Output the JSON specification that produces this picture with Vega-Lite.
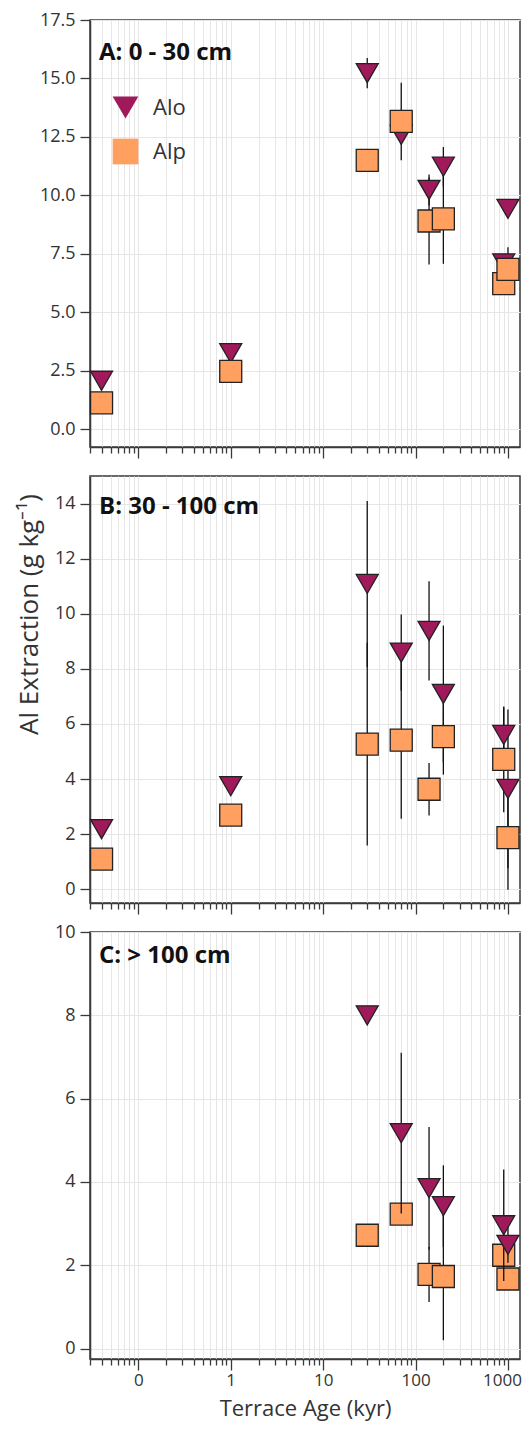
{
  "$schema": "https://vega.github.io/schema/vega-lite/v6.json",
  "padding": {"left": 15, "top": 10, "right": 2, "bottom": 2},
  "background": "white",
  "config": {
    "font": "Open Sans",
    "view": {"stroke": "#3a3a3a", "strokeWidth": 1.5},
    "axis": {"labelFont": "Open Sans", "labelFontSize": 18, "labelColor": "#333", "titleFont": "Open Sans", "titleFontSize": 26, "titleFontWeight": "normal", "titleColor": "#333", "domainColor": "#3a3a3a", "domainWidth": 1.5, "tickColor": "#3a3a3a", "tickWidth": 1.3, "gridColor": "#e6e6e6", "gridWidth": 1},
    "title": {"font": "Open Sans", "fontSize": 24, "fontWeight": "bold", "color": "#111", "anchor": "start", "frame": "group", "offset": 0, "baseline": "alphabetic", "dx": 9}
  },
  "datasets": {
    "pts": [
      {"panel": "A", "age": 0.04, "type": "Alo", "value": 2.08, "lo": null, "hi": null},
      {"panel": "A", "age": 1, "type": "Alo", "value": 3.26, "lo": null, "hi": null},
      {"panel": "A", "age": 30, "type": "Alo", "value": 15.23, "lo": 14.58, "hi": 15.88},
      {"panel": "A", "age": 70, "type": "Alo", "value": 12.59, "lo": null, "hi": null},
      {"panel": "A", "age": 140, "type": "Alo", "value": 10.24, "lo": 9.58, "hi": 10.9},
      {"panel": "A", "age": 200, "type": "Alo", "value": 11.23, "lo": 10.39, "hi": 12.07},
      {"panel": "A", "age": 900, "type": "Alo", "value": 7.1, "lo": null, "hi": null},
      {"panel": "A", "age": 1000, "type": "Alo", "value": 9.43, "lo": null, "hi": null},
      {"panel": "A", "age": 0.04, "type": "Alp", "value": 1.14, "lo": null, "hi": null},
      {"panel": "A", "age": 1, "type": "Alp", "value": 2.48, "lo": null, "hi": null},
      {"panel": "A", "age": 30, "type": "Alp", "value": 11.5, "lo": null, "hi": null},
      {"panel": "A", "age": 70, "type": "Alp", "value": 13.17, "lo": 11.51, "hi": 14.82},
      {"panel": "A", "age": 140, "type": "Alp", "value": 8.91, "lo": 7.05, "hi": 10.77},
      {"panel": "A", "age": 200, "type": "Alp", "value": 9.0, "lo": 7.08, "hi": 10.92},
      {"panel": "A", "age": 900, "type": "Alp", "value": 6.23, "lo": null, "hi": null},
      {"panel": "A", "age": 1000, "type": "Alp", "value": 6.84, "lo": 5.89, "hi": 7.79},
      {"panel": "B", "age": 0.04, "type": "Alo", "value": 2.18, "lo": null, "hi": null},
      {"panel": "B", "age": 1, "type": "Alo", "value": 3.74, "lo": null, "hi": null},
      {"panel": "B", "age": 30, "type": "Alo", "value": 11.08, "lo": 8.07, "hi": 14.09},
      {"panel": "B", "age": 70, "type": "Alo", "value": 8.59, "lo": 7.21, "hi": 9.97},
      {"panel": "B", "age": 140, "type": "Alo", "value": 9.38, "lo": 7.58, "hi": 11.18},
      {"panel": "B", "age": 200, "type": "Alo", "value": 7.09, "lo": 4.61, "hi": 9.57},
      {"panel": "B", "age": 900, "type": "Alo", "value": 5.6, "lo": 4.6, "hi": 6.6},
      {"panel": "B", "age": 1000, "type": "Alo", "value": 3.64, "lo": 0.76, "hi": 6.52},
      {"panel": "B", "age": 0.04, "type": "Alp", "value": 1.09, "lo": null, "hi": null},
      {"panel": "B", "age": 1, "type": "Alp", "value": 2.69, "lo": null, "hi": null},
      {"panel": "B", "age": 30, "type": "Alp", "value": 5.27, "lo": 1.59, "hi": 8.95},
      {"panel": "B", "age": 70, "type": "Alp", "value": 5.41, "lo": 2.56, "hi": 8.26},
      {"panel": "B", "age": 140, "type": "Alp", "value": 3.63, "lo": 2.68, "hi": 4.58},
      {"panel": "B", "age": 200, "type": "Alp", "value": 5.54, "lo": 4.16, "hi": 6.92},
      {"panel": "B", "age": 900, "type": "Alp", "value": 4.71, "lo": 2.79, "hi": 6.63},
      {"panel": "B", "age": 1000, "type": "Alp", "value": 1.87, "lo": -0.02, "hi": 3.76},
      {"panel": "C", "age": 30, "type": "Alo", "value": 8.0, "lo": null, "hi": null},
      {"panel": "C", "age": 70, "type": "Alo", "value": 5.17, "lo": 3.24, "hi": 7.1},
      {"panel": "C", "age": 140, "type": "Alo", "value": 3.85, "lo": 2.38, "hi": 5.32},
      {"panel": "C", "age": 200, "type": "Alo", "value": 3.42, "lo": 2.44, "hi": 4.4},
      {"panel": "C", "age": 900, "type": "Alo", "value": 2.96, "lo": 1.62, "hi": 4.3},
      {"panel": "C", "age": 1000, "type": "Alo", "value": 2.49, "lo": 2.06, "hi": 2.92},
      {"panel": "C", "age": 30, "type": "Alp", "value": 2.72, "lo": null, "hi": null},
      {"panel": "C", "age": 70, "type": "Alp", "value": 3.23, "lo": null, "hi": null},
      {"panel": "C", "age": 140, "type": "Alp", "value": 1.78, "lo": 1.12, "hi": 2.44},
      {"panel": "C", "age": 200, "type": "Alp", "value": 1.73, "lo": 0.2, "hi": 3.26},
      {"panel": "C", "age": 900, "type": "Alp", "value": 2.24, "lo": null, "hi": null},
      {"panel": "C", "age": 1000, "type": "Alp", "value": 1.67, "lo": null, "hi": null}
    ]
  },
  "spacing": 29,
  "bounds": "flush",
  "resolve": {"legend": {"shape": "independent", "fill": "independent"}},
  "vconcat": [
    {
      "width": 430, "height": 427,
      "title": {"text": "A: 0 - 30 cm", "dy": 58},
      "data": {"name": "pts"},
      "transform": [{"filter": "datum.panel == 'A'"}],
      "encoding": {
        "x": {"field": "age", "type": "quantitative", "scale": {"type": "log", "domain": [0.03, 1350], "nice": false},
          "axis": {"title": null, "labels": false, "grid": true, "values": [0.03,0.04,0.05,0.06,0.07,0.08,0.09,0.1,0.2,0.3,0.4,0.5,0.6,0.7,0.8,0.9,1,2,3,4,5,6,7,8,9,10,20,30,40,50,60,70,80,90,100,200,300,400,500,600,700,800,900,1000],
            "tickSize": {"condition": {"test": "indexof([0.1,1,10,100,1000], datum.value) >= 0", "value": 11}, "value": 6}}}
      },
      "layer": [
        {
          "transform": [{"filter": "isValid(datum.lo)"}],
          "mark": {"type": "rule", "color": "#111", "strokeWidth": 1.3},
          "encoding": {
            "y": {"field": "lo", "type": "quantitative", "scale": {"domain": [-0.75, 17.5], "nice": false, "zero": false}, "axis": {"title": null, "values": [0,2.5,5,7.5,10,12.5,15,17.5], "format": ".1f", "tickSize": 10, "labelPadding": 5, "grid": true}},
            "y2": {"field": "hi"}
          }
        },
        {
          "transform": [{"filter": "datum.type == 'Alo'"}],
          "mark": {"type": "point", "filled": true, "opacity": 1, "size": 484, "stroke": "#222", "strokeWidth": 1.3},
          "encoding": {
            "y": {"field": "value", "type": "quantitative", "scale": {"domain": [-0.75, 17.5], "nice": false, "zero": false}, "axis": {"title": null, "values": [0,2.5,5,7.5,10,12.5,15,17.5], "format": ".1f", "tickSize": 10, "labelPadding": 5, "grid": true}},
            "shape": {"field": "type", "type": "nominal", "scale": {"domain": ["Alo", "Alp"], "range": ["triangle-down", "square"]},
              "legend": {"title": null, "orient": "none", "legendX": 22, "legendY": 74, "padding": 0, "symbolSize": 660, "labelFontSize": 22, "labelFont": "Open Sans", "labelColor": "#333", "rowPadding": 14, "labelOffset": 14, "symbolStrokeColor": "#222", "symbolStrokeWidth": 1.3, "symbolOpacity": 1}},
            "fill": {"field": "type", "type": "nominal", "scale": {"domain": ["Alo", "Alp"], "range": ["#A0195A", "#FF9F60"]},
              "legend": {"title": null, "orient": "none", "legendX": 22, "legendY": 74, "padding": 0, "symbolSize": 660, "labelFontSize": 22, "labelFont": "Open Sans", "labelColor": "#333", "rowPadding": 14, "labelOffset": 14, "symbolStrokeColor": "#222", "symbolStrokeWidth": 1.3, "symbolOpacity": 1}}
          }
        },
        {
          "transform": [{"filter": "datum.type == 'Alp'"}],
          "mark": {"type": "point", "filled": true, "opacity": 1, "size": 484, "stroke": "#222", "strokeWidth": 1.3},
          "encoding": {
            "y": {"field": "value", "type": "quantitative", "scale": {"domain": [-0.75, 17.5], "nice": false, "zero": false}, "axis": {"title": null, "values": [0,2.5,5,7.5,10,12.5,15,17.5], "format": ".1f", "tickSize": 10, "labelPadding": 5, "grid": true}},
            "shape": {"field": "type", "type": "nominal", "scale": {"domain": ["Alo", "Alp"], "range": ["triangle-down", "square"]},
              "legend": {"title": null, "orient": "none", "legendX": 22, "legendY": 74, "padding": 0, "symbolSize": 660, "labelFontSize": 22, "labelFont": "Open Sans", "labelColor": "#333", "rowPadding": 14, "labelOffset": 14, "symbolStrokeColor": "#222", "symbolStrokeWidth": 1.3, "symbolOpacity": 1}},
            "fill": {"field": "type", "type": "nominal", "scale": {"domain": ["Alo", "Alp"], "range": ["#A0195A", "#FF9F60"]},
              "legend": {"title": null, "orient": "none", "legendX": 22, "legendY": 74, "padding": 0, "symbolSize": 660, "labelFontSize": 22, "labelFont": "Open Sans", "labelColor": "#333", "rowPadding": 14, "labelOffset": 14, "symbolStrokeColor": "#222", "symbolStrokeWidth": 1.3, "symbolOpacity": 1}}
          }
        }
      ]
    },
    {
      "width": 430, "height": 427,
      "title": {"text": "B: 30 - 100 cm", "dy": 47},
      "data": {"name": "pts"},
      "transform": [{"filter": "datum.panel == 'B'"}],
      "encoding": {
        "x": {"field": "age", "type": "quantitative", "scale": {"type": "log", "domain": [0.03, 1350], "nice": false},
          "axis": {"title": null, "labels": false, "grid": true, "values": [0.03,0.04,0.05,0.06,0.07,0.08,0.09,0.1,0.2,0.3,0.4,0.5,0.6,0.7,0.8,0.9,1,2,3,4,5,6,7,8,9,10,20,30,40,50,60,70,80,90,100,200,300,400,500,600,700,800,900,1000],
            "tickSize": {"condition": {"test": "indexof([0.1,1,10,100,1000], datum.value) >= 0", "value": 11}, "value": 6}}}
      },
      "layer": [
        {
          "transform": [{"filter": "isValid(datum.lo)"}],
          "mark": {"type": "rule", "color": "#111", "strokeWidth": 1.3},
          "encoding": {
            "y": {"field": "lo", "type": "quantitative", "scale": {"domain": [-0.5, 15], "nice": false, "zero": false}, "axis": {"title": "Al Extraction (g kg⁻¹)", "titleY": 138, "titlePadding": 12, "values": [0,2,4,6,8,10,12,14], "tickSize": 10, "labelPadding": 5, "grid": true}},
            "y2": {"field": "hi"}
          }
        },
        {
          "transform": [{"filter": "datum.type == 'Alo'"}],
          "mark": {"type": "point", "filled": true, "opacity": 1, "size": 484, "stroke": "#222", "strokeWidth": 1.3},
          "encoding": {
            "y": {"field": "value", "type": "quantitative", "scale": {"domain": [-0.5, 15], "nice": false, "zero": false}, "axis": {"title": "Al Extraction (g kg⁻¹)", "titleY": 138, "titlePadding": 12, "values": [0,2,4,6,8,10,12,14], "tickSize": 10, "labelPadding": 5, "grid": true}},
            "shape": {"field": "type", "type": "nominal", "scale": {"domain": ["Alo", "Alp"], "range": ["triangle-down", "square"]}, "legend": null},
            "fill": {"field": "type", "type": "nominal", "scale": {"domain": ["Alo", "Alp"], "range": ["#A0195A", "#FF9F60"]}, "legend": null}
          }
        },
        {
          "transform": [{"filter": "datum.type == 'Alp'"}],
          "mark": {"type": "point", "filled": true, "opacity": 1, "size": 484, "stroke": "#222", "strokeWidth": 1.3},
          "encoding": {
            "y": {"field": "value", "type": "quantitative", "scale": {"domain": [-0.5, 15], "nice": false, "zero": false}, "axis": {"title": "Al Extraction (g kg⁻¹)", "titleY": 138, "titlePadding": 12, "values": [0,2,4,6,8,10,12,14], "tickSize": 10, "labelPadding": 5, "grid": true}},
            "shape": {"field": "type", "type": "nominal", "scale": {"domain": ["Alo", "Alp"], "range": ["triangle-down", "square"]}, "legend": null},
            "fill": {"field": "type", "type": "nominal", "scale": {"domain": ["Alo", "Alp"], "range": ["#A0195A", "#FF9F60"]}, "legend": null}
          }
        }
      ]
    },
    {
      "width": 430, "height": 427,
      "title": {"text": "C: > 100 cm", "dy": 49},
      "data": {"name": "pts"},
      "transform": [{"filter": "datum.panel == 'C'"}],
      "encoding": {
        "x": {"field": "age", "type": "quantitative", "scale": {"type": "log", "domain": [0.03, 1350], "nice": false},
          "axis": {"title": "Terrace Age (kyr)", "titleFontSize": 22, "titlePadding": 10, "grid": true, "labelOverlap": false, "labelFlush": false, "labelPadding": 2, "labelFontSize": 17,
            "labelOffset": {"condition": {"test": "datum.value == 1000", "value": -6}, "value": 0},
            "labelExpr": "datum.value == 0.1 ? '0' : (indexof([1,10,100,1000], datum.value) >= 0 ? format(datum.value, 'd') : '')",
            "values": [0.03,0.04,0.05,0.06,0.07,0.08,0.09,0.1,0.2,0.3,0.4,0.5,0.6,0.7,0.8,0.9,1,2,3,4,5,6,7,8,9,10,20,30,40,50,60,70,80,90,100,200,300,400,500,600,700,800,900,1000],
            "tickSize": {"condition": {"test": "indexof([0.1,1,10,100,1000], datum.value) >= 0", "value": 11}, "value": 6}}}
      },
      "layer": [
        {
          "transform": [{"filter": "isValid(datum.lo) && datum.type == 'Alp'"}],
          "mark": {"type": "rule", "color": "#111", "strokeWidth": 1.3},
          "encoding": {
            "y": {"field": "lo", "type": "quantitative", "scale": {"domain": [-0.25, 10], "nice": false, "zero": false}, "axis": {"title": null, "values": [0,2,4,6,8,10], "tickSize": 10, "labelPadding": 5, "grid": true}},
            "y2": {"field": "hi"}
          }
        },
        {
          "transform": [{"filter": "datum.type == 'Alp'"}],
          "mark": {"type": "point", "filled": true, "opacity": 1, "size": 484, "stroke": "#222", "strokeWidth": 1.3},
          "encoding": {
            "y": {"field": "value", "type": "quantitative", "scale": {"domain": [-0.25, 10], "nice": false, "zero": false}, "axis": {"title": null, "values": [0,2,4,6,8,10], "tickSize": 10, "labelPadding": 5, "grid": true}},
            "shape": {"field": "type", "type": "nominal", "scale": {"domain": ["Alo", "Alp"], "range": ["triangle-down", "square"]}, "legend": null},
            "fill": {"field": "type", "type": "nominal", "scale": {"domain": ["Alo", "Alp"], "range": ["#A0195A", "#FF9F60"]}, "legend": null}
          }
        },
        {
          "transform": [{"filter": "isValid(datum.lo) && datum.type == 'Alo'"}],
          "mark": {"type": "rule", "color": "#111", "strokeWidth": 1.3},
          "encoding": {
            "y": {"field": "lo", "type": "quantitative", "scale": {"domain": [-0.25, 10], "nice": false, "zero": false}, "axis": {"title": null, "values": [0,2,4,6,8,10], "tickSize": 10, "labelPadding": 5, "grid": true}},
            "y2": {"field": "hi"}
          }
        },
        {
          "transform": [{"filter": "datum.type == 'Alo'"}],
          "mark": {"type": "point", "filled": true, "opacity": 1, "size": 484, "stroke": "#222", "strokeWidth": 1.3},
          "encoding": {
            "y": {"field": "value", "type": "quantitative", "scale": {"domain": [-0.25, 10], "nice": false, "zero": false}, "axis": {"title": null, "values": [0,2,4,6,8,10], "tickSize": 10, "labelPadding": 5, "grid": true}},
            "shape": {"field": "type", "type": "nominal", "scale": {"domain": ["Alo", "Alp"], "range": ["triangle-down", "square"]}, "legend": null},
            "fill": {"field": "type", "type": "nominal", "scale": {"domain": ["Alo", "Alp"], "range": ["#A0195A", "#FF9F60"]}, "legend": null}
          }
        }
      ]
    }
  ]
}
